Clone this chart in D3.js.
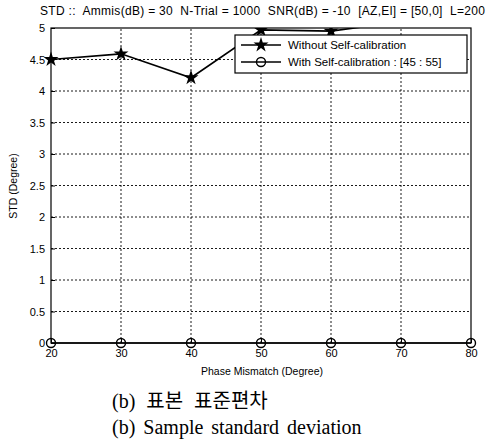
<!DOCTYPE html>
<html>
<head>
<meta charset="utf-8">
<script src="https://cdn.jsdelivr.net/npm/d3@7"></script>
<style>
  body { margin: 0; background: #fff; }
  svg { display: block; }
  text { white-space: pre; }
</style>
</head>
<body>
<svg id="chart" width="493" height="445"></svg>
<script>
const mismatch = [20, 30, 40, 50, 60, 70, 80];
const withoutCal = [4.5, 4.59, 4.21, 4.97, 4.95, 5.1, 5.15];
const withCal = [0, 0, 0, 0, 0, 0, 0];
const yTicks = [0, 0.5, 1, 1.5, 2, 2.5, 3, 3.5, 4, 4.5, 5];
const xTicks = [20, 30, 40, 50, 60, 70, 80];

const svg = d3.select("#chart");
const x = d3.scaleLinear().domain([20, 80]).range([51, 471]);
const y = d3.scaleLinear().domain([0, 5]).range([343, 28]);
const font = "'Liberation Sans', Arial, sans-serif";

// dotted grid
svg.append("g").selectAll("line").data(xTicks.slice(1, -1)).join("line")
  .attr("x1", d => x(d)).attr("x2", d => x(d))
  .attr("y1", y(0)).attr("y2", y(5))
  .attr("stroke", "#000").attr("stroke-width", 0.9)
  .attr("stroke-dasharray", "2,2");
svg.append("g").selectAll("line").data(yTicks.slice(1, -1)).join("line")
  .attr("x1", x(20)).attr("x2", x(80))
  .attr("y1", d => y(d)).attr("y2", d => y(d))
  .attr("stroke", "#000").attr("stroke-width", 0.9)
  .attr("stroke-dasharray", "2,2");

// box
svg.append("rect")
  .attr("x", x(20)).attr("y", y(5))
  .attr("width", x(80) - x(20)).attr("height", y(0) - y(5))
  .attr("fill", "none").attr("stroke", "#000").attr("stroke-width", 1.2);

// axes
const yAxis = d3.axisLeft(y).tickValues(yTicks).tickSize(-4).tickPadding(6)
  .tickFormat(d => String(d));
svg.append("g").attr("transform", `translate(${x(20)},0)`).call(yAxis)
  .call(g => g.select(".domain").remove())
  .call(g => g.selectAll("text").attr("font-family", font).attr("font-size", 11).attr("fill", "#000"));

const xAxis = d3.axisBottom(x).tickValues(xTicks).tickSize(-4).tickPadding(6);
svg.append("g").attr("transform", `translate(0,${y(0)})`).call(xAxis)
  .call(g => g.select(".domain").remove())
  .call(g => g.selectAll("text").attr("font-family", font).attr("font-size", 11).attr("fill", "#000"));

// clip for data
svg.append("clipPath").attr("id", "clip").append("rect")
  .attr("x", x(20) - 8).attr("y", y(5))
  .attr("width", x(80) - x(20) + 16).attr("height", y(0) - y(5) + 10);

const line = d3.line().x((d, i) => x(mismatch[i])).y(d => y(d));
const plot = svg.append("g").attr("clip-path", "url(#clip)");
plot.append("path").datum(withoutCal).attr("d", line)
  .attr("fill", "none").attr("stroke", "#000").attr("stroke-width", 1.6);
plot.append("path").datum(withCal).attr("d", line)
  .attr("fill", "none").attr("stroke", "#000").attr("stroke-width", 1.6);

const star = d3.symbol().type(d3.symbolStar).size(70);
plot.append("g").selectAll("path").data(withoutCal).join("path")
  .attr("d", star)
  .attr("transform", (d, i) => `translate(${x(mismatch[i])},${y(d)})`)
  .attr("fill", "#000");
plot.append("g").selectAll("circle").data(withCal).join("circle")
  .attr("cx", (d, i) => x(mismatch[i])).attr("cy", d => y(d)).attr("r", 4.5)
  .attr("fill", "none").attr("stroke", "#000").attr("stroke-width", 1.4);

// legend (drawn over the data)
const lg = svg.append("g");
lg.append("rect").attr("x", 235).attr("y", 35).attr("width", 232).attr("height", 38)
  .attr("fill", "#fff").attr("stroke", "#000").attr("stroke-width", 1.2);
const rows = [
  { label: "Without Self-calibration", sym: "star", cy: 45 },
  { label: "With Self-calibration : [45 : 55]", sym: "circle", cy: 62 }
];
rows.forEach(r => {
  lg.append("line").attr("x1", 241).attr("x2", 281).attr("y1", r.cy).attr("y2", r.cy)
    .attr("stroke", "#000").attr("stroke-width", 1.6);
  if (r.sym === "star") {
    lg.append("path").attr("d", star).attr("transform", `translate(261,${r.cy})`).attr("fill", "#000");
  } else {
    lg.append("circle").attr("cx", 261).attr("cy", r.cy).attr("r", 4.5)
      .attr("fill", "none").attr("stroke", "#000").attr("stroke-width", 1.4);
  }
  lg.append("text").attr("x", 288).attr("y", r.cy + 4).text(r.label)
    .attr("font-family", font).attr("font-size", 11.5);
});

// title and labels
svg.append("text").attr("x", 40).attr("y", 15)
  .attr("font-family", font).attr("font-size", 12)
  .attr("textLength", 445).attr("lengthAdjust", "spacing")
  .text("STD ::  Ammis(dB) = 30  N-Trial = 1000  SNR(dB) = -10  [AZ,El] = [50,0]  L=200");
svg.append("text").attr("x", 262).attr("y", 375).attr("text-anchor", "middle")
  .attr("font-family", font).attr("font-size", 10.5)
  .text("Phase Mismatch (Degree)");
svg.append("text").attr("transform", "translate(17,186) rotate(-90)").attr("text-anchor", "middle")
  .attr("font-family", font).attr("font-size", 10.5)
  .text("STD (Degree)");

// caption
svg.append("text").attr("x", 112).attr("y", 408)
  .attr("font-family", "'Liberation Serif', 'Noto Sans CJK KR', serif").attr("font-size", 20)
  .attr("word-spacing", 6)
  .text("(b) 표본 표준편차");
svg.append("text").attr("x", 112).attr("y", 434)
  .attr("font-family", "'Liberation Serif', serif").attr("font-size", 20)
  .attr("word-spacing", 3)
  .text("(b) Sample standard deviation");
</script>
</body>
</html>
